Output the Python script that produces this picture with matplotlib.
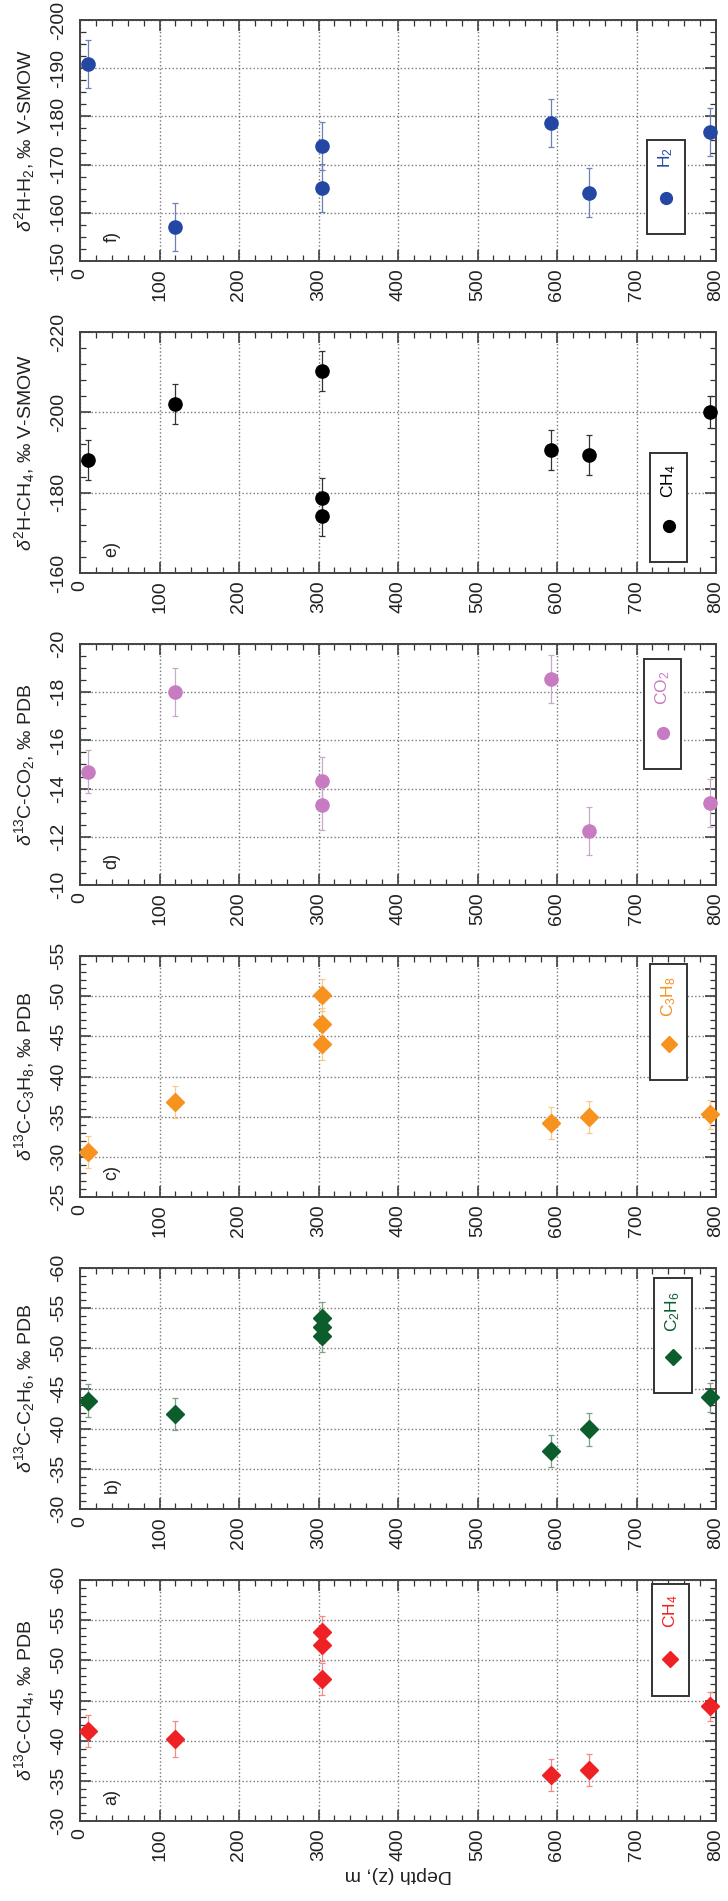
import matplotlib
matplotlib.use("Agg")
import matplotlib.pyplot as plt
from matplotlib.patches import Rectangle
from matplotlib.ticker import MultipleLocator

plt.rcParams['font.family'] = ['Liberation Sans', 'DejaVu Sans']
plt.rcParams['mathtext.fontset'] = 'custom'
plt.rcParams['mathtext.rm'] = 'Liberation Sans'
plt.rcParams['mathtext.it'] = 'Liberation Sans:italic'
plt.rcParams['mathtext.bf'] = 'Liberation Sans:bold'
plt.rcParams['axes.unicode_minus'] = False

# ---------------- data ----------------
depth_a = [10, 120, 305, 305, 305, 592, 640, 793]
ch4_c13 = [-41.2, -40.2, -47.7, -51.9, -53.5, -35.7, -36.4, -44.3]
ch4_c13_err = [2.0, 2.2, 2.0, 2.0, 2.0, 2.0, 2.0, 1.8]

depth_b = [10, 120, 305, 305, 305, 592, 640, 793]
c2h6_c13 = [-43.5, -41.8, -51.5, -52.7, -53.8, -37.2, -39.9, -43.9]
c2h6_c13_err = [2.0, 2.0, 2.0, 2.0, 2.0, 2.0, 2.0, 1.8]

depth_c = [10, 120, 305, 305, 305, 592, 640, 793]
c3h8_c13 = [-30.6, -36.8, -44.1, -46.5, -50.1, -34.2, -35.0, -35.3]
c3h8_c13_err = [2.0, 2.0, 2.0, 2.0, 2.0, 2.0, 2.0, 1.8]

depth_d = [10, 120, 305, 305, 592, 640, 793]
co2_c13 = [-14.7, -18.0, -13.3, -14.3, -18.55, -12.25, -13.4]
co2_c13_err = [0.9, 1.0, 1.0, 1.0, 1.0, 1.0, 1.0]

depth_e = [10, 120, 305, 305, 305, 592, 640, 793]
ch4_h2 = [-188.1, -202.0, -174.2, -178.6, -210.2, -190.7, -189.3, -200.0]
ch4_h2_err = [5, 5, 5, 5, 5, 5, 5, 4]

depth_f = [10, 120, 305, 305, 592, 640, 793]
h2_h2 = [-190.8, -157.1, -165.2, -173.8, -178.6, -164.2, -176.7]
h2_h2_err = [5, 5, 5, 5, 5, 5, 5]

depth_ticks = [0, 100, 200, 300, 400, 500, 600, 700, 800]

panels = [
    dict(letter='f)', x=depth_f, y=h2_h2, err=h2_h2_err, ylim=(-150, -200), major=10, minor=2.5,
         ylabel='$\\delta^2$H-H$_2$, ‰ V-SMOW', leg='H$_2$', marker='o', color='#2447a3',
         ecolor='#6f7fb8', box=(0.891, 0.951, 0.111, 0.503), my=0.26, ty=0.43),
    dict(letter='e)', x=depth_e, y=ch4_h2, err=ch4_h2_err, ylim=(-160, -220), major=20, minor=4,
         ylabel='$\\delta^2$H-CH$_4$, ‰ V-SMOW', leg='CH$_4$', marker='o', color='#000000',
         ecolor='#333333', box=(0.897, 0.955, 0.044, 0.499), my=0.196, ty=0.38),
    dict(letter='d)', x=depth_d, y=co2_c13, err=co2_c13_err, ylim=(-10, -20), major=2, minor=0.5,
         ylabel='$\\delta^{13}$C-CO$_2$, ‰ PDB', leg='CO$_2$', marker='o', color='#c77cc2',
         ecolor='#c9a9c9', box=(0.887, 0.945, 0.48, 0.937), my=0.63, ty=0.82),
    dict(letter='c)', x=depth_c, y=c3h8_c13, err=c3h8_c13_err, ylim=(-25, -55), major=5, minor=1,
         ylabel='$\\delta^{13}$C-C$_3$H$_8$, ‰ PDB', leg='C$_3$H$_8$', marker='D', color='#f7921e',
         ecolor='#f8c88e', box=(0.897, 0.955, 0.485, 0.966), my=0.633, ty=0.83),
    dict(letter='b)', x=depth_b, y=c2h6_c13, err=c2h6_c13_err, ylim=(-30, -60), major=5, minor=1,
         ylabel='$\\delta^{13}$C-C$_2$H$_6$, ‰ PDB', leg='C$_2$H$_6$', marker='D', color='#0c5d2c',
         ecolor='#7f9f86', box=(0.903, 0.962, 0.48, 0.96), my=0.63, ty=0.82),
    dict(letter='a)', x=depth_a, y=ch4_c13, err=ch4_c13_err, ylim=(-30, -60), major=5, minor=1,
         ylabel='$\\delta^{13}$C-CH$_4$, ‰ PDB', leg='CH$_4$', marker='D', color='#ee2124',
         ecolor='#f28a8a', box=(0.899, 0.957, 0.517, 0.983), my=0.674, ty=0.87),
]

W, H = 728, 1901
fig = plt.figure(figsize=(W / 100, H / 100), dpi=100)
fig.patch.set_facecolor('white')

left_px, right_px = 80, 716
top0, period, height = 20, 312, 241

for i, p in enumerate(panels):
    top = top0 + i * period
    ax = fig.add_axes([left_px / W, 1 - (top + height) / H,
                       (right_px - left_px) / W, height / H])
    ms = 9.5 if p['marker'] == 'o' else 9
    ax.errorbar(p['x'], p['y'], yerr=p['err'], fmt=p['marker'], color=p['color'],
                ms=ms, mec=p['color'], ecolor=p['ecolor'], elinewidth=0.9,
                capsize=2.5, capthick=0.9, zorder=3, clip_on=False)
    ax.set_xlim(0, 800)
    ax.set_ylim(*p['ylim'])
    ax.set_xticks(depth_ticks)
    ax.set_xticklabels([str(t) for t in depth_ticks], rotation=90, fontsize=14)
    ax.xaxis.set_minor_locator(MultipleLocator(20))
    ax.yaxis.set_major_locator(MultipleLocator(p['major']))
    ax.yaxis.set_minor_locator(MultipleLocator(p['minor']))
    for lab in ax.get_yticklabels():
        lab.set_rotation(90)
        lab.set_va('center')
        lab.set_fontsize(14)
    ax.tick_params(which='both', direction='in', top=True, right=True, colors='#333333',
                   labelcolor='#222222')
    ax.tick_params(which='major', length=8, width=1.1)
    ax.tick_params(axis='x', which='major', pad=5)
    ax.tick_params(axis='y', which='major', pad=9)
    ax.tick_params(which='minor', length=4, width=0.9)
    ax.grid(True, which='major', linestyle=':', color='#777777', linewidth=1.0)
    for s in ax.spines.values():
        s.set_linewidth(1.4)
        s.set_color('#444444')
    ax.set_ylabel(p['ylabel'], fontsize=14, labelpad=10, color='#222222')
    ax.text(0.05, 0.1, p['letter'], transform=ax.transAxes, rotation=90,
            fontsize=13, ha='center', va='center', color='#222222')
    x0, x1, y0, y1 = p['box']
    ax.add_patch(Rectangle((x0, y0), x1 - x0, y1 - y0, transform=ax.transAxes,
                           facecolor='white', edgecolor='#333333', linewidth=1.4, zorder=4))
    ax.plot([(x0 + x1) / 2], [p['my']], marker=p['marker'], color=p['color'], ms=ms - 1,
            transform=ax.transAxes, zorder=5, linestyle='none')
    ax.text((x0 + x1) / 2, p['ty'], p['leg'], transform=ax.transAxes, rotation=90,
            fontsize=12.5, ha='center', va='center', color=p['color'], zorder=5)
    if i == len(panels) - 1:
        ax.set_xlabel('Depth (z), m', fontsize=14, rotation=180, labelpad=4, color='#222222')

fig.savefig('out.png', dpi=100, facecolor='white')
